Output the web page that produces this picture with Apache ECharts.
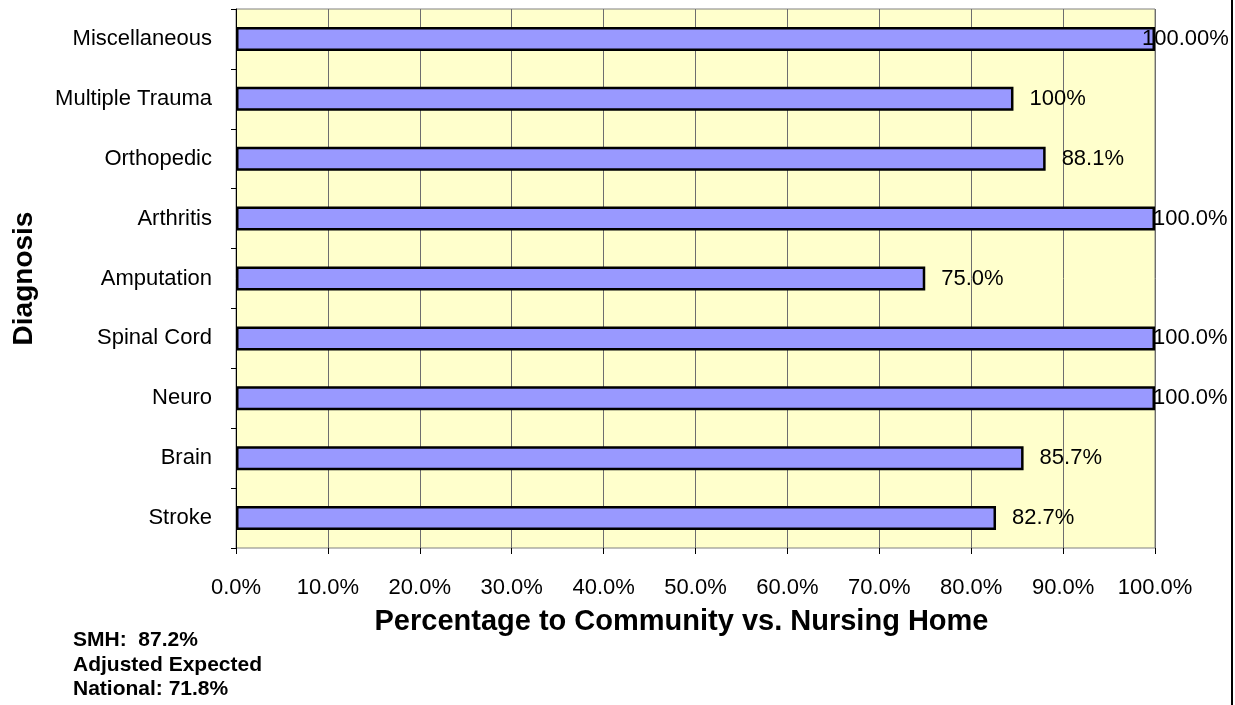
<!DOCTYPE html>
<html>
<head>
<meta charset="utf-8">
<script src="https://cdn.jsdelivr.net/npm/echarts@6/dist/echarts.min.js"></script>
<style>
  html, body { margin: 0; padding: 0; background: #fff; }
  #chart { width: 1235px; height: 705px; }
</style>
</head>
<body>
<div id="chart"></div>
<script>
// categories listed bottom to top
const diagnoses = ['Stroke', 'Brain', 'Neuro', 'Spinal Cord', 'Amputation', 'Arthritis', 'Orthopedic', 'Multiple Trauma', 'Miscellaneous']
const percentHome = [82.7, 85.7, 100, 100, 75, 100, 88.1, 84.6, 100]
const barLabels = ['82.7%', '85.7%', '100.0%', '100.0%', '75.0%', '100.0%', '88.1%', '100%', '100.00%']
const notes = ['SMH:  87.2%', 'Adjusted Expected', 'National: 71.8%']

const font = '"Liberation Sans", Arial, sans-serif'
const chart = echarts.init(document.getElementById('chart'))

// labels on full bars sit right on the bar end
const labelGap = (v, i) => {
  if (i === diagnoses.length - 1) return -13
  return v >= 100 ? -2 : 16
}

const option = {
  animation: false,
  textStyle: { fontFamily: font },
  grid: {
    left: 236,
    right: 80,
    top: 9,
    bottom: 157,
    show: true,
    backgroundColor: '#FFFFCC',
    borderColor: '#808080',
    borderWidth: 1
  },
  xAxis: {
    type: 'value',
    min: 0,
    max: 100,
    interval: 10,
    name: 'Percentage to Community vs. Nursing Home',
    nameLocation: 'middle',
    nameGap: 59,
    nameTextStyle: { fontSize: 29, fontWeight: 'bold', color: '#000', fontFamily: font, padding: [0, 28, 0, 0] },
    axisLine: { lineStyle: { color: '#000', width: 1 } },
    axisTick: { show: true, length: 6, lineStyle: { color: '#000' } },
    axisLabel: { fontSize: 22, color: '#000', margin: 29, formatter: v => v.toFixed(1) + '%' },
    splitLine: { show: true, lineStyle: { color: '#6e6e6e', width: 1 } }
  },
  yAxis: {
    type: 'category',
    data: diagnoses,
    name: 'Diagnosis',
    nameLocation: 'middle',
    nameGap: 198,
    nameRotate: 90,
    nameTextStyle: { fontSize: 28, fontWeight: 'bold', color: '#000', fontFamily: font },
    axisLine: { lineStyle: { color: '#000', width: 1 } },
    axisTick: { show: true, length: 5, lineStyle: { color: '#000' } },
    axisLabel: { fontSize: 22, color: '#000', margin: 24 },
    splitLine: { show: false }
  },
  series: [{
    type: 'bar',
    barWidth: 24,
    data: percentHome.map((v, i) => ({
      value: v,
      label: {
        show: true,
        position: 'right',
        distance: labelGap(v, i),
        formatter: () => barLabels[i]
      }
    })),
    itemStyle: { color: '#9999FF', borderColor: '#000', borderWidth: 2.5 },
    label: { fontSize: 22, color: '#000', fontFamily: font }
  }],
  graphic: [
    {
      type: 'line',
      shape: { x1: 1232, y1: 0, x2: 1232, y2: 705 },
      style: { stroke: '#000', lineWidth: 2 }
    },
    ...notes.map((t, i) => ({
      type: 'text',
      left: 73,
      top: 630 + i * 24.5,
      style: { text: t, fontSize: 21, fontWeight: 'bold', fill: '#000', fontFamily: font }
    }))
  ]
}

chart.setOption(option)
</script>
</body>
</html>
